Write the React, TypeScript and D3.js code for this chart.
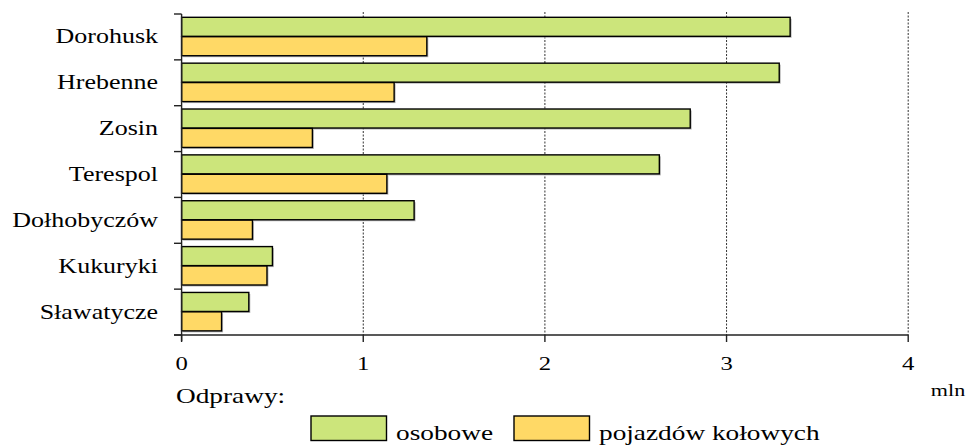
import React from "react";
import * as d3 from "d3";

const categories = ["Dorohusk", "Hrebenne", "Zosin", "Terespol", "Dołhobyczów", "Kukuryki", "Sławatycze"];
const osobowe = [3.35, 3.29, 2.8, 2.63, 1.28, 0.5, 0.37];
const pojazdow = [1.35, 1.17, 0.72, 1.13, 0.39, 0.47, 0.22];
const seriesNames = ["osobowe", "pojazdów kołowych"];
const seriesColors = ["#cce57b", "#ffd966"];
const xTicks = [0, 1, 2, 3, 4];
const unitLabel = "mln";
const legendTitle = "Odprawy:";

const W = 966;
const H = 445;
const FONT = "Liberation Serif, Tinos, Times New Roman, serif";

export default function App() {
  const x = d3.scaleLinear().domain([0, 4]).range([181.6, 908.2]);
  const y = d3.scaleBand<string>().domain(categories).range([14, 335]).padding(0);
  const bw = y.bandwidth();
  const inner = d3.scaleBand<string>().domain(seriesNames).range([bw * 0.072, bw * 0.91]).paddingInner(0.02);
  const series = [osobowe, pojazdow];
  const sx = 1.3;

  const boundaries = categories.map((c) => y(c) as number).concat([y.range()[1]]);
  const ts = { fontFamily: FONT };

  return (
    <svg width={W} height={H} style={{ position: "absolute", left: 0, top: 0, fontFamily: FONT }}>
      <rect x={0} y={0} width={W} height={H} fill="#fff" />
      {xTicks.filter((t) => t > 0).map((t) => (
        <line key={"g" + t} x1={x(t)} x2={x(t)} y1={12} y2={335} stroke="#333" strokeWidth={1} strokeDasharray="2,1.5" />
      ))}
      {categories.map((c, i) =>
        series.map((s, k) => {
          const yy = (y(c) as number) + (inner(seriesNames[k]) as number);
          const h = inner.bandwidth();
          return (
            <g key={c + k}>
              <rect x={x(0) + 1.5} y={yy + 1.5} width={x(s[i]) - x(0)} height={h} fill="#999" opacity={0.7} />
              <rect x={x(0)} y={yy} width={x(s[i]) - x(0)} height={h} fill={seriesColors[k]} stroke="#000" strokeWidth={1.4} />
            </g>
          );
        })
      )}
      <line x1={x(0)} x2={x(0)} y1={14} y2={341} stroke="#222" strokeWidth={1.4} />
      {boundaries.map((b, i) => (
        <line key={"yt" + i} x1={174} x2={x(0)} y1={b} y2={b} stroke="#222" strokeWidth={1.4} />
      ))}
      <line x1={174} x2={x(4)} y1={335} y2={335} stroke="#222" strokeWidth={1.4} />
      {xTicks.map((t) => (
        <g key={"xt" + t}>
          <line x1={x(t)} x2={x(t)} y1={335} y2={342} stroke="#222" strokeWidth={1.4} />
          <text style={ts} transform={`translate(${x(t)},370) scale(${sx},1)`} textAnchor="middle" fontSize={19} fill="#000">
            {t}
          </text>
        </g>
      ))}
      <text style={ts} transform={`translate(948,396) scale(${sx},1)`} textAnchor="middle" fontSize={17} fill="#000">
        {unitLabel}
      </text>
      {categories.map((c) => (
        <text
          key={"l" + c}
          style={ts}
          transform={`translate(158,${(y(c) as number) + bw / 2 + 6.5}) scale(${sx},1)`}
          textAnchor="end"
          fontSize={20}
          fill="#000"
        >
          {c}
        </text>
      ))}
      <text style={ts} transform={`translate(176,403) scale(${sx},1)`} fontSize={21} fill="#000">
        {legendTitle}
      </text>
      {seriesNames.map((n, k) => {
        const lx = k === 0 ? 311 : 514;
        return (
          <g key={"lg" + n}>
            <rect x={lx} y={416} width={75.5} height={24.5} fill={seriesColors[k]} stroke="#000" strokeWidth={1.4} />
            <text style={ts} transform={`translate(${lx + 85},440) scale(${sx},1)`} fontSize={21} fill="#000">
              {n}
            </text>
          </g>
        );
      })}
    </svg>
  );
}
